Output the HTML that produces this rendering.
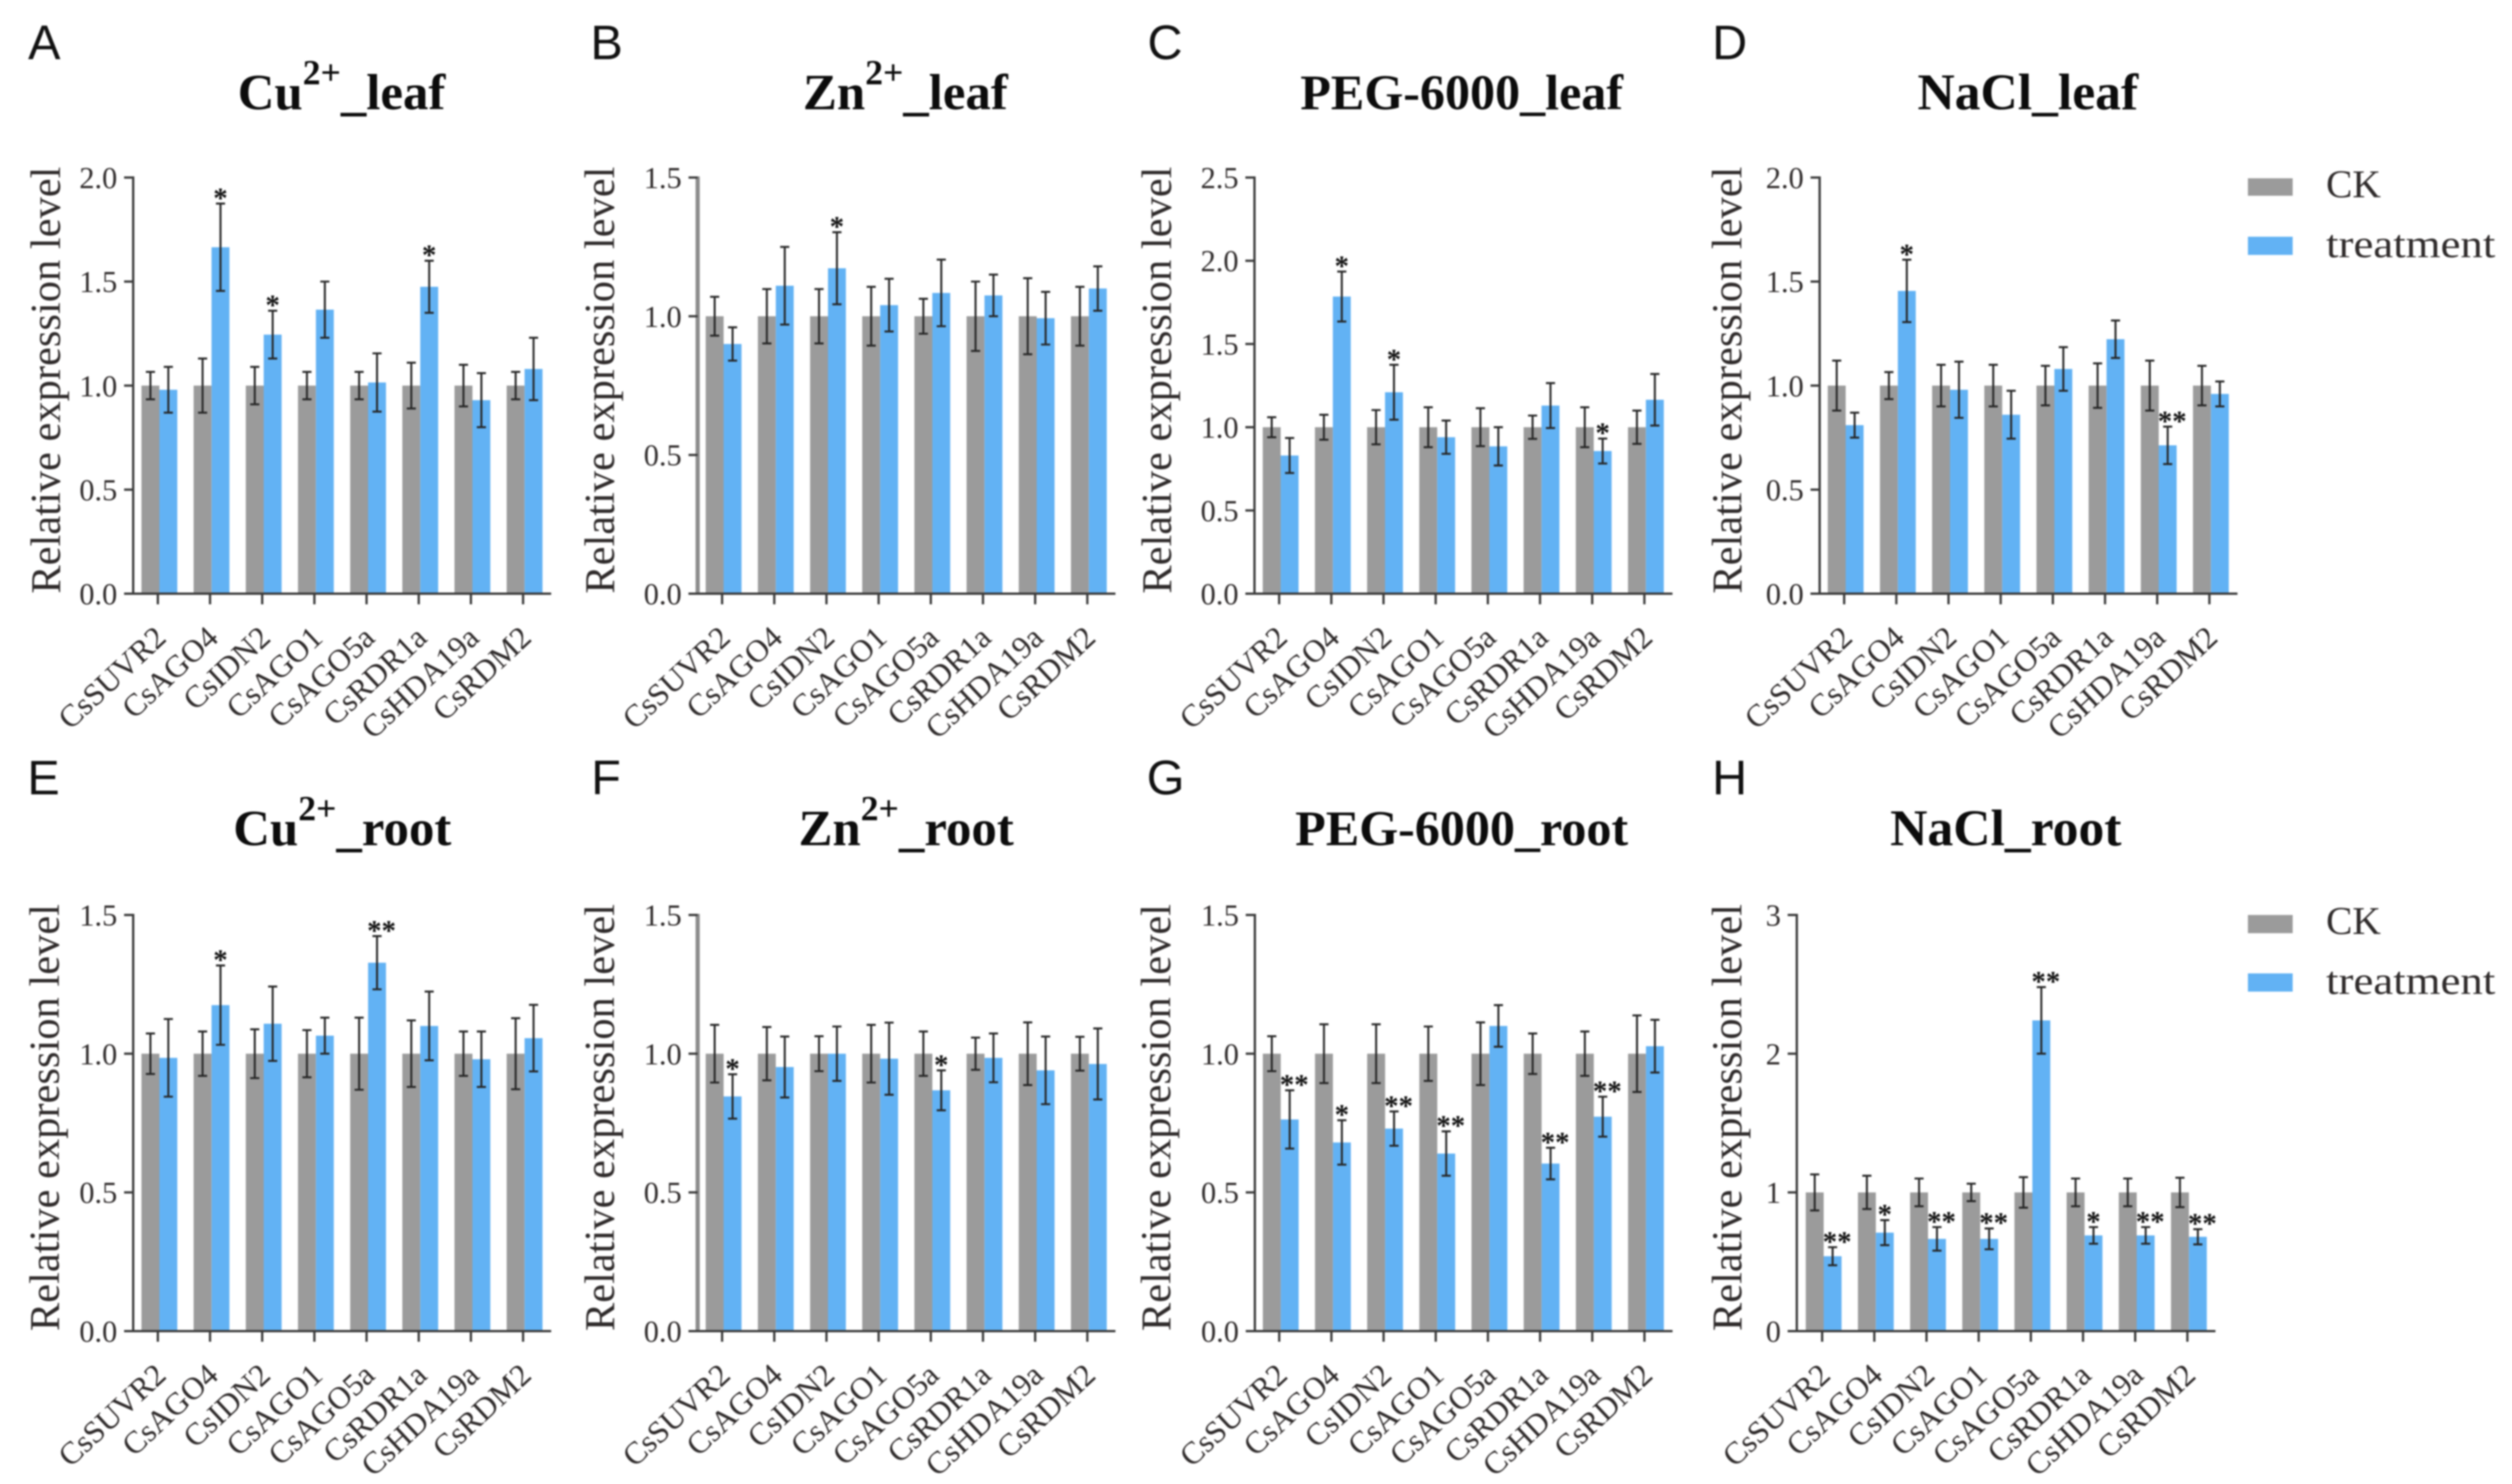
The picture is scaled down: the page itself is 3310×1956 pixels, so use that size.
<!DOCTYPE html>
<html lang="en">
<head>
<meta charset="utf-8">
<title>Relative expression level under stress treatments</title>
<style>
html,body{margin:0;padding:0;background:#fff;width:3310px;height:1956px;overflow:hidden}
svg{display:block;filter:blur(1px)}
text{font-family:"Liberation Serif","DejaVu Serif",serif;fill:#2f2b2b}
.letter{font-family:"Liberation Sans","DejaVu Sans",sans-serif;font-size:64px;fill:#111}
.title{font-size:67px;font-weight:bold;fill:#0c0c0c;text-anchor:middle}
.wide{font-size:68px}
.peg{font-size:66px}
.sup{font-size:47px;font-weight:bold}
.legend{font-size:52px}
</style>
</head>
<body>
<svg id="figure" xmlns="http://www.w3.org/2000/svg" width="3310" height="1956" viewBox="0 0 3310 1956">
  <rect width="3310" height="1956" fill="#fff"/>

  <text class="letter" x="37" y="78">A</text>
  <text class="letter" x="778" y="78">B</text>
  <text class="letter" x="1512" y="78">C</text>
  <text class="letter" x="2256" y="78">D</text>
  <text class="letter" x="36" y="1047">E</text>
  <text class="letter" x="779" y="1047">F</text>
  <text class="letter" x="1511" y="1047">G</text>
  <text class="letter" x="2256" y="1047">H</text>

  <text class="title" x="450" y="144">Cu<tspan class="sup" dy="-33">2+</tspan><tspan dy="33">_leaf</tspan></text>
  <text class="title" x="1193" y="144">Zn<tspan class="sup" dy="-33">2+</tspan><tspan dy="33">_leaf</tspan></text>
  <text class="title peg" x="1926" y="144">PEG-6000_leaf</text>
  <text class="title wide" x="2672" y="144">NaCl_leaf</text>
  <text class="title" x="451" y="1114">Cu<tspan class="sup" dy="-33">2+</tspan><tspan dy="33">_root</tspan></text>
  <text class="title" x="1194" y="1114">Zn<tspan class="sup" dy="-33">2+</tspan><tspan dy="33">_root</tspan></text>
  <text class="title peg" x="1926" y="1114">PEG-6000_root</text>
  <text class="title wide" x="2643" y="1114">NaCl_root</text>

  <g>
    <rect x="2962" y="235" width="59" height="23" fill="#9b9b9b"/>
    <text class="legend" x="3065" y="260">CK</text>
    <rect x="2962" y="312" width="59" height="24" fill="#62b2f4"/>
    <text class="legend" x="3065" y="339" textLength="223" lengthAdjust="spacingAndGlyphs">treatment</text>
  </g>
  <g>
    <rect x="2962" y="1206" width="59" height="24" fill="#9b9b9b"/>
    <text class="legend" x="3065" y="1231">CK</text>
    <rect x="2962" y="1283" width="59" height="24" fill="#62b2f4"/>
    <text class="legend" x="3065" y="1310" textLength="223" lengthAdjust="spacingAndGlyphs">treatment</text>
  </g>
</svg>

<script>
const categories = ["CsSUVR2","CsAGO4","CsIDN2","CsAGO1","CsAGO5a","CsRDR1a","CsHDA19a","CsRDM2"];

const ckValues = [1,1,1,1,1,1,1,1];

const ticksA = ["0.0","0.5","1.0","1.5","2.0"];
const ckErrA = [0.066,0.13,0.09,0.066,0.066,0.11,0.10,0.066];
const trtA = [0.98,1.665,1.245,1.365,1.015,1.475,0.93,1.08];
const trtErrA = [0.11,0.21,0.115,0.135,0.14,0.125,0.13,0.15];
const sigA = [0,1,1,0,0,1,0,0];

const ticksB = ["0.0","0.5","1.0","1.5"];
const ckErrB = [0.07,0.098,0.098,0.106,0.063,0.125,0.137,0.106];
const trtB = [0.90,1.11,1.173,1.04,1.084,1.075,0.993,1.10];
const trtErrB = [0.06,0.14,0.13,0.095,0.12,0.075,0.095,0.08];
const sigB = [0,0,1,0,0,0,0,0];

const ticksC = ["0.0","0.5","1.0","1.5","2.0","2.5"];
const ckErrC = [0.06,0.075,0.103,0.12,0.114,0.07,0.12,0.10];
const trtC = [0.83,1.785,1.21,0.94,0.885,1.13,0.857,1.165];
const trtErrC = [0.105,0.15,0.165,0.10,0.115,0.135,0.075,0.155];
const sigC = [0,1,1,0,0,0,1,0];

const ticksD = ["0.0","0.5","1.0","1.5","2.0"];
const ckErrD = [0.12,0.065,0.10,0.10,0.095,0.107,0.12,0.095];
const trtD = [0.81,1.455,0.98,0.86,1.08,1.223,0.713,0.96];
const trtErrD = [0.06,0.15,0.135,0.115,0.105,0.09,0.09,0.06];
const sigD = [0,1,0,0,0,0,2,0];

const ticksE = ["0.0","0.5","1.0","1.5"];
const ckErrE = [0.073,0.08,0.088,0.085,0.13,0.12,0.08,0.128];
const trtE = [0.985,1.175,1.108,1.065,1.328,1.10,0.98,1.056];
const trtErrE = [0.14,0.143,0.134,0.065,0.096,0.124,0.10,0.12];
const sigE = [0,1,0,0,2,0,0,0];

const ticksF = ["0.0","0.5","1.0","1.5"];
const ckErrF = [0.104,0.096,0.063,0.104,0.08,0.058,0.113,0.061];
const trtF = [0.846,0.952,1.0,0.982,0.868,0.985,0.94,0.963];
const trtErrF = [0.08,0.11,0.098,0.13,0.072,0.088,0.122,0.128];
const sigF = [1,0,0,0,1,0,0,0];

const ticksG = ["0.0","0.5","1.0","1.5"];
const ckErrG = [0.063,0.106,0.106,0.098,0.113,0.073,0.08,0.138];
const trtG = [0.763,0.68,0.73,0.64,1.10,0.604,0.773,1.027];
const trtErrG = [0.105,0.08,0.062,0.08,0.075,0.057,0.072,0.095];
const sigG = [2,1,2,2,0,2,2,0];

const ticksH = ["0","1","2","3"];
const ckErrH = [0.13,0.12,0.10,0.063,0.11,0.10,0.10,0.106];
const trtH = [0.54,0.71,0.665,0.665,2.24,0.69,0.69,0.68];
const trtErrH = [0.065,0.09,0.085,0.075,0.24,0.06,0.06,0.055];
const sigH = [2,1,2,2,2,1,2,2];

const SVG_NS = "http://www.w3.org/2000/svg";
const figure = document.getElementById("figure");
const GRAY = "#9b9b9b", BLUE = "#62b2f4", AXIS = "#3a3a3a", ERR = "#262626";
const STEP = 68.75, BAR_W = 23.6, TOP_ROW = {top:234, base:782.5}, BOT_ROW = {top:1206, base:1754.5};

function make(tag, attrs, parent, txt){
  const el = document.createElementNS(SVG_NS, tag);
  for (const k in attrs) el.setAttribute(k, attrs[k]);
  if (txt !== undefined) el.textContent = txt;
  parent.appendChild(el);
  return el;
}

function drawPanel(id, row, axisX, firstTick, labelX, ticks, ckErr, trt, trtErr, sig, thickAxis){
  const group = make("g", {}, figure);
  
  

  const maxV = parseFloat(ticks[ticks.length - 1]);
  const y = v => row.base - v / maxV * (row.base - row.top);
  const x = i => firstTick + i * STEP;

  categories.forEach((name, i) => {
    const cx = x(i) + 2;
    const ckBar = make("rect", {x: cx - BAR_W, y: y(ckValues[i]), width: BAR_W, height: row.base - y(ckValues[i]), fill: GRAY}, group);
    
    
    const trtBar = make("rect", {x: cx, y: y(trt[i]), width: BAR_W, height: row.base - y(trt[i]), fill: BLUE}, group);
    
    
  });

  categories.forEach((name, i) => {
    const cx = x(i) + 2;
    [[cx - BAR_W / 2, ckValues[i], ckErr[i], 'ck'], [cx + BAR_W / 2, trt[i], trtErr[i], 'treatment']].forEach(s => {
      const ex = s[0], hi = y(s[1] + s[2]), lo = y(s[1] - s[2]);
      const err = make("path", {d: "M" + (ex - 6) + " " + hi + "H" + (ex + 6) + "M" + ex + " " + hi + "V" + lo + "M" + (ex - 6) + " " + lo + "H" + (ex + 6), fill: "none", stroke: ERR, "stroke-width": 2.6}, group);
      
      
    });
    if (sig[i] > 0) {
      const double = sig[i] === 2;
      const sx = cx + BAR_W / 2 + (double ? 6 : 0);
      const star = make("text", {x: sx, y: y(trt[i] + trtErr[i]) + 5, "text-anchor": "middle", "font-size": 38, "font-weight": "bold", style: "fill:#111"}, group, double ? "**" : "*");
      
      
    }
  });

  const yAxis = make("line", {x1: axisX, x2: axisX, y1: row.top - 1.5, y2: row.base + 1.5, stroke: thickAxis ? "#8c8c8c" : AXIS, "stroke-width": thickAxis ? 5.5 : 3}, group);
  
  
  const xAxis = make("line", {x1: axisX - 12, x2: x(7) + 37, y1: row.base, y2: row.base, stroke: AXIS, "stroke-width": 3}, group);
  
  

  ticks.forEach(t => {
    const ty = y(parseFloat(t));
    const mark = make("line", {x1: axisX - 12, x2: axisX, y1: ty, y2: ty, stroke: AXIS, "stroke-width": 3}, group);
    
    
    const lab = make("text", {x: axisX - 21, y: ty + 14, "text-anchor": "end", "font-size": 40}, group, t);
    
    
  });

  categories.forEach((name, i) => {
    const tx = x(i);
    const mark = make("line", {x1: tx, x2: tx, y1: row.base, y2: row.base + 14, stroke: AXIS, "stroke-width": 3}, group);
    
    
    const ax = tx + 13, ay = row.base + 61;
    const lab = make("text", {x: ax, y: ay, "text-anchor": "end", "font-size": 41.5, transform: "rotate(-43 " + ax + " " + ay + ")"}, group, name);
    
    
  });

  const ay = row.base;
  const yTitle = make("text", {x: labelX, y: ay, "font-size": 56, textLength: 563, lengthAdjust: "spacingAndGlyphs", transform: "rotate(-90 " + labelX + " " + ay + ")"}, group, "Relative expression level");
  
  
}

drawPanel("a", TOP_ROW, 175.5, 208, 79, ticksA, ckErrA, trtA, trtErrA, sigA, false);
drawPanel("b", TOP_ROW, 919.3, 951.5, 809, ticksB, ckErrB, trtB, trtErrB, sigB, true);
drawPanel("c", TOP_ROW, 1653, 1685.5, 1543, ticksC, ckErrC, trtC, trtErrC, sigC, false);
drawPanel("d", TOP_ROW, 2397.7, 2430, 2294.6, ticksD, ckErrD, trtD, trtErrD, sigD, false);
drawPanel("e", BOT_ROW, 175.5, 208, 77.5, ticksE, ckErrE, trtE, trtErrE, sigE, false);
drawPanel("f", BOT_ROW, 919.3, 951.5, 809, ticksF, ckErrF, trtF, trtErrF, sigF, true);
drawPanel("g", BOT_ROW, 1653.5, 1685.6, 1542, ticksG, ckErrG, trtG, trtErrG, sigG, false);
drawPanel("h", BOT_ROW, 2367.6, 2401, 2294.6, ticksH, ckErrH, trtH, trtErrH, sigH, false);
</script>
</body>
</html>
